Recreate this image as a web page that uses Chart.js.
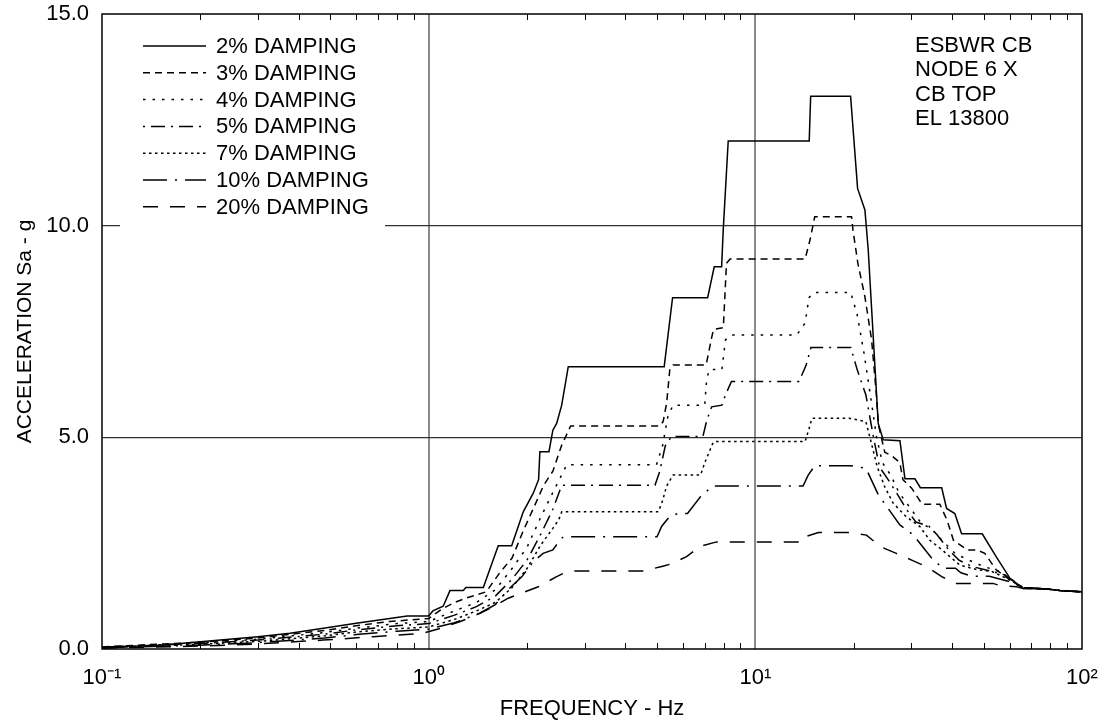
<!DOCTYPE html>
<html>
<head>
<meta charset="utf-8">
<title>ESBWR CB - Node 6 X response spectra</title>
<script src="https://cdn.jsdelivr.net/npm/chart.js@4/dist/chart.umd.min.js"></script>
<style>
  html, body { margin: 0; padding: 0; background: #fff; }
  canvas { display: block; }
</style>
</head>
<body>
<canvas id="rs" width="1103" height="728"></canvas>
<script>
// spectra: [frequency Hz, Sa g]
const damp2 = [[0.1,0.05],[0.147,0.08],[0.2,0.17],[0.3,0.29],[0.376,0.37],[0.476,0.49],[0.6,0.61],[0.76,0.72],[0.86,0.78],[1.0,0.78],[1.03,0.9],[1.108,1.01],[1.162,1.38],[1.276,1.38],[1.3,1.45],[1.47,1.45],[1.633,2.44],[1.795,2.44],[1.948,3.24],[2.09,3.68],[2.17,4.0],[2.19,4.66],[2.335,4.66],[2.4,5.17],[2.465,5.33],[2.554,5.76],[2.675,6.67],[5.26,6.67],[5.58,8.3],[7.145,8.3],[7.485,9.03],[7.885,9.03],[7.975,9.9],[8.26,12.0],[14.62,12.0],[14.77,13.06],[19.57,13.06],[20.56,10.88],[21.65,10.37],[22.16,9.43],[23.78,5.33],[24.63,4.94],[27.71,4.92],[28.71,4.02],[30.8,4.02],[32.0,3.81],[37.2,3.81],[38.5,3.32],[40.8,3.2],[42.8,2.72],[49.5,2.72],[54.6,2.18],[60.2,1.67],[66.1,1.43],[77.9,1.42],[85.6,1.38],[100,1.35]];
const damp3 = [[0.1,0.05],[0.2,0.16],[0.3,0.26],[0.48,0.44],[0.6,0.55],[0.76,0.65],[1.0,0.72],[1.1,0.95],[1.2,1.1],[1.3,1.2],[1.5,1.35],[1.65,1.8],[1.8,2.15],[1.95,2.8],[2.1,3.35],[2.25,3.87],[2.4,4.2],[2.55,4.8],[2.72,5.27],[5.1,5.27],[5.22,5.37],[5.35,5.8],[5.47,6.59],[5.6,6.71],[7.07,6.71],[7.36,7.38],[7.45,7.55],[7.98,7.59],[8.16,9.11],[8.37,9.21],[14.2,9.21],[14.7,9.66],[15.2,10.21],[19.7,10.21],[19.9,9.9],[20.6,9.11],[21.65,8.32],[22.7,7.3],[23.5,5.96],[23.8,5.3],[24.9,4.65],[26.3,4.55],[27.7,4.4],[28.3,4.0],[30.1,3.8],[32.4,3.42],[36.7,3.42],[38.6,3.05],[40.4,2.57],[44.6,2.34],[47.6,2.34],[50.4,2.26],[54.6,1.87],[60.2,1.63],[66.1,1.43],[77.9,1.42],[85.6,1.38],[100,1.35]];
const damp4 = [[0.1,0.04],[0.2,0.14],[0.3,0.23],[0.48,0.39],[0.6,0.49],[0.8,0.6],[1.0,0.65],[1.2,0.9],[1.4,1.1],[1.6,1.4],[1.8,1.9],[2.0,2.4],[2.2,3.1],[2.4,3.7],[2.55,4.1],[2.645,4.35],[4.98,4.35],[5.2,4.8],[5.4,5.5],[5.6,5.76],[7.0,5.76],[7.1,6.4],[7.25,6.6],[7.9,6.6],[8.1,7.3],[8.45,7.42],[13.4,7.42],[14.2,7.7],[14.6,8.3],[15.1,8.42],[19.6,8.42],[20.5,7.9],[21.5,7.0],[22.5,6.0],[23.5,5.0],[24.5,4.4],[26,4.1],[27.5,3.7],[30,3.3],[32,3.0],[35,2.8],[38,2.5],[41,2.25],[45,2.1],[50,1.95],[56,1.83],[62,1.6],[66.1,1.45],[77.9,1.42],[85.6,1.38],[100,1.35]];
const damp5 = [[0.1,0.04],[0.2,0.13],[0.3,0.21],[0.48,0.35],[0.6,0.45],[0.8,0.55],[1.0,0.6],[1.2,0.8],[1.4,1.0],[1.6,1.25],[1.8,1.65],[2.0,2.1],[2.2,2.7],[2.4,3.3],[2.555,3.87],[4.93,3.87],[5.1,4.2],[5.3,4.8],[5.54,5.02],[6.91,5.02],[7.1,5.4],[7.35,5.72],[7.9,5.76],[8.1,6.0],[8.45,6.32],[13.6,6.32],[14.3,6.7],[14.8,7.12],[19.6,7.12],[20.5,6.6],[21.8,6.0],[23,5.0],[24,4.3],[25.5,4.0],[27.5,3.6],[29,3.3],[31,3.0],[34,2.9],[36,2.7],[39,2.35],[42,2.1],[46,1.95],[52,1.85],[58,1.75],[63,1.55],[66.1,1.45],[77.9,1.42],[85.6,1.38],[100,1.35]];
const damp7 = [[0.1,0.03],[0.2,0.11],[0.3,0.18],[0.48,0.31],[0.6,0.4],[0.8,0.48],[1.0,0.52],[1.2,0.7],[1.4,0.9],[1.6,1.1],[1.8,1.45],[2.0,1.9],[2.2,2.45],[2.4,2.85],[2.5,3.05],[2.555,3.24],[5.05,3.24],[5.2,3.5],[5.35,3.85],[5.6,4.11],[6.8,4.11],[7.0,4.4],[7.4,4.85],[7.5,4.9],[14.2,4.9],[14.6,5.2],[14.9,5.45],[19.4,5.45],[21.8,5.37],[22.8,4.78],[23.6,4.31],[24.9,3.83],[26.4,3.45],[28.9,3.13],[31.9,2.89],[34.2,2.57],[37.3,2.34],[42.3,1.98],[48,1.87],[53,1.83],[60.2,1.63],[66.1,1.45],[77.9,1.42],[85.6,1.38],[100,1.35]];
const damp10 = [[0.1,0.03],[0.2,0.09],[0.3,0.15],[0.48,0.26],[0.6,0.34],[0.8,0.42],[1.0,0.47],[1.2,0.62],[1.436,0.85],[1.6,1.05],[1.75,1.4],[1.93,1.71],[2.09,2.06],[2.24,2.26],[2.4,2.34],[2.52,2.57],[2.583,2.65],[5.0,2.65],[5.17,2.9],[5.47,3.13],[5.8,3.2],[6.2,3.2],[6.8,3.6],[7.4,3.85],[14.0,3.85],[14.5,4.1],[15.2,4.33],[19.6,4.33],[21.8,4.27],[23.8,3.64],[25.5,3.32],[27.7,2.93],[30.5,2.69],[34.7,2.14],[37.5,1.91],[41,1.91],[42.6,1.8],[46,1.72],[52,1.72],[60.2,1.59],[66.1,1.45],[77.9,1.42],[85.6,1.38],[100,1.35]];
const damp20 = [[0.1,0.02],[0.2,0.07],[0.3,0.12],[0.475,0.21],[0.675,0.29],[0.96,0.37],[1.1,0.5],[1.25,0.65],[1.436,0.84],[1.577,1.0],[1.752,1.2],[1.926,1.32],[2.166,1.47],[2.465,1.71],[2.675,1.84],[4.53,1.84],[5.17,1.95],[5.47,2.0],[6.16,2.18],[6.76,2.42],[7.61,2.53],[14.0,2.53],[14.3,2.66],[15.6,2.75],[19.7,2.75],[21.9,2.69],[24.1,2.42],[27,2.26],[30.1,2.1],[33.5,1.94],[37.2,1.71],[41.1,1.55],[53.4,1.55],[56,1.5],[63,1.47],[66.1,1.43],[77.9,1.42],[85.6,1.38],[100,1.35]];

const seriesLabels = ['2% DAMPING','3% DAMPING','4% DAMPING','5% DAMPING','7% DAMPING','10% DAMPING','20% DAMPING'];
const seriesData = [damp2, damp3, damp4, damp5, damp7, damp10, damp20];
const seriesDash = [[], [7,5], [2.5,7], [2,6,14,6], [2.5,3.5], [24,8,2,8], [15,12]];

const decadeValues = [0.1, 1, 10, 100];
const decadeLabels = ['10\u207B\u00B9', '10\u2070', '10\u00B9', '10\u00B2'];
const yTickValues = [0, 5, 10, 15];
const noteLines = ['ESBWR CB', 'NODE 6 X', 'CB TOP', 'EL 13800'];

const FONT = "'Liberation Sans', Arial, sans-serif";

function isInnerDecade(v) {
    const l = Math.log10(v);
    return Math.abs(l - Math.round(l)) < 1e-6 && v > 0.1 && v < 100;
}

// minor ticks inside the frame, box border
const frame = {
    id: 'frame',
    afterDraw(chart) {
        const { ctx, chartArea: a, scales: { x } } = chart;
        ctx.save();
        ctx.strokeStyle = '#000';
        ctx.lineWidth = 1;
        for (let d = 0.1; d < 50; d *= 10) {
            for (let k = 2; k <= 9; k++) {
                const px = Math.round(x.getPixelForValue(k * d)) + 0.5;
                ctx.beginPath();
                ctx.moveTo(px, a.bottom); ctx.lineTo(px, a.bottom - 6);
                ctx.moveTo(px, a.top); ctx.lineTo(px, a.top + 6);
                ctx.stroke();
            }
        }
        ctx.lineWidth = 1.5;
        ctx.strokeRect(a.left, a.top, a.right - a.left, a.bottom - a.top);
        ctx.restore();
    }
};

// legend box inside plot + the notes on the right
const keyBox = {
    id: 'keyBox',
    afterDatasetsDraw(chart) {
        const ctx = chart.ctx;
        ctx.save();
        ctx.fillStyle = '#fff';
        ctx.fillRect(120, 18, 265, 214);
        ctx.font = '22px ' + FONT;
        ctx.textBaseline = 'middle';
        ctx.fillStyle = '#000';
        chart.data.datasets.forEach((ds, i) => {
            const y = 46 + i * 26.8;
            ctx.strokeStyle = '#000';
            ctx.lineWidth = 1.5;
            ctx.setLineDash(ds.borderDash);
            ctx.beginPath();
            ctx.moveTo(143, y); ctx.lineTo(206, y);
            ctx.stroke();
            ctx.setLineDash([]);
            ctx.fillText(ds.label, 216, y + 1);
        });
        noteLines.forEach((t, i) => ctx.fillText(t, 915, 46 + i * 24.3));
        ctx.restore();
    }
};

new Chart(document.getElementById('rs'), {
    type: 'line',
    data: {
        datasets: seriesData.map((pts, i) => ({
            label: seriesLabels[i],
            data: pts.map(p => ({ x: p[0], y: p[1] })),
            borderColor: '#000',
            borderWidth: 1.5,
            borderDash: seriesDash[i],
            pointRadius: 0,
            tension: 0,
            fill: false
        }))
    },
    options: {
        responsive: false,
        animation: false,
        devicePixelRatio: 1,
        layout: { padding: { top: 14, right: 21, left: 0, bottom: 0 } },
        plugins: { legend: { display: false }, tooltip: { enabled: false } },
        scales: {
            x: {
                type: 'logarithmic',
                min: 0.1,
                max: 100,
                afterBuildTicks: s => { s.ticks = decadeValues.map(v => ({ value: v })); },
                afterFit: s => { s.height = 79; s.paddingLeft = 0; s.paddingRight = 0; },
                grid: {
                    drawTicks: false,
                    lineWidth: 2,
                    color: c => (c.tick && isInnerDecade(c.tick.value)) ? '#8a8a8a' : 'rgba(0,0,0,0)'
                },
                border: { display: false },
                ticks: {
                    autoSkip: false,
                    maxRotation: 0,
                    padding: 16,
                    color: '#000',
                    font: { family: FONT, size: 22 },
                    callback: v => {
                        const i = decadeValues.findIndex(d => Math.abs(d - v) < 1e-9);
                        return i >= 0 ? decadeLabels[i] : '';
                    }
                },
                title: {
                    display: true,
                    text: 'FREQUENCY - Hz',
                    color: '#000',
                    font: { family: FONT, size: 22 },
                    padding: { top: 0, bottom: 6 }
                }
            },
            y: {
                min: 0,
                max: 15,
                afterBuildTicks: s => { s.ticks = yTickValues.map(v => ({ value: v })); },
                afterFit: s => { s.width = 102; s.paddingTop = 0; s.paddingBottom = 0; },
                grid: {
                    drawTicks: false,
                    lineWidth: 1.2,
                    color: c => (c.tick && c.tick.value > 0 && c.tick.value < 15) ? '#333' : 'rgba(0,0,0,0)'
                },
                border: { display: false },
                ticks: {
                    padding: 13,
                    color: '#000',
                    font: { family: FONT, size: 22 },
                    callback: v => v.toFixed(1)
                },
                title: {
                    display: true,
                    text: 'ACCELERATION Sa - g',
                    color: '#000',
                    font: { family: FONT, size: 21 },
                    padding: { top: 13, bottom: 0 }
                }
            }
        }
    },
    plugins: [frame, keyBox]
});
</script>
</body>
</html>
